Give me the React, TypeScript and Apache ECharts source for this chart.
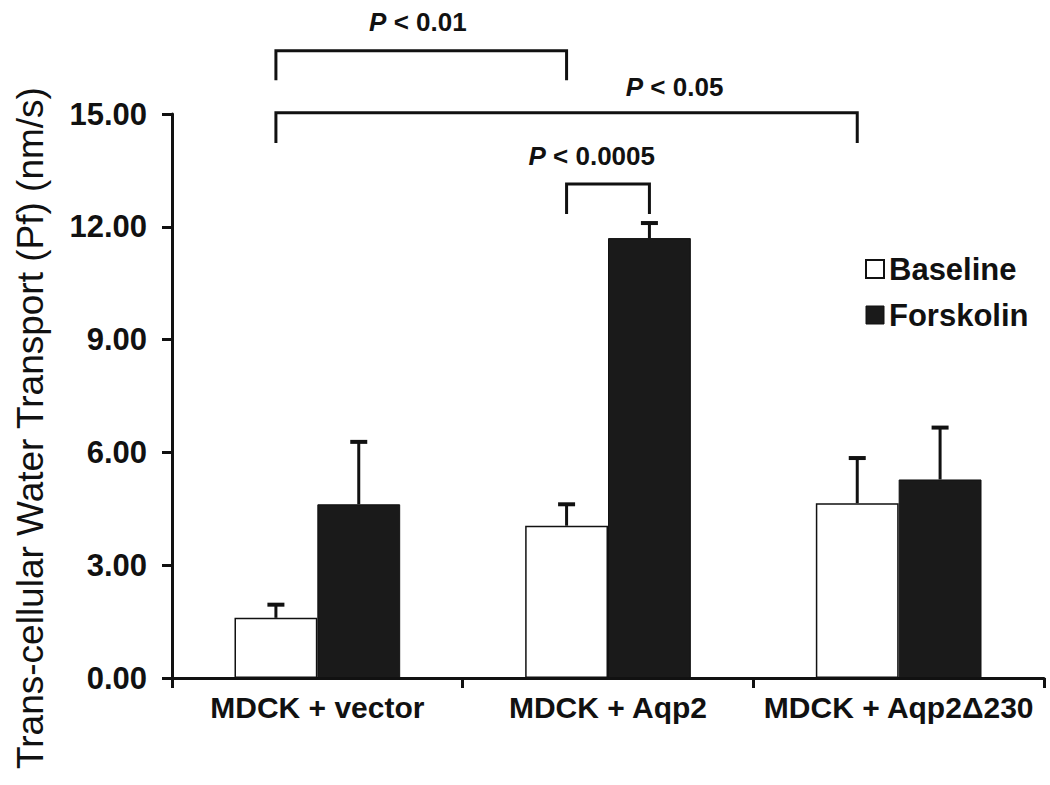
import React, { useEffect, useRef } from "react";
import * as echarts from "echarts";

const categories = ["MDCK + vector", "MDCK + Aqp2", "MDCK + Aqp2Δ230"];
const seriesNames = ["Baseline", "Forskolin"];
const baseline = [1.6, 4.05, 4.65];
const baselineUpper = [1.95, 4.62, 5.85];
const forskolin = [4.62, 11.7, 5.28];
const forskolinUpper = [6.28, 12.1, 6.66];
const yMin = 0;
const yMax = 15;
const yInterval = 3;

// significance brackets: [category A, side A, category B, side B]
const bracketEnds = [
  [0, -1, 1, -1],
  [0, -1, 2, -1],
  [1, -1, 1, 1],
];
const bracketLabels = ["< 0.01", "< 0.05", "< 0.0005"];
// bracket heights in axis units: [horizontal, tick end, label]
const bracketLevels = [
  [16.68, 15.9, 17.45],
  [15.03, 14.23, 15.72],
  [13.14, 12.34, 13.88],
];
// label centre, in category widths from the first category's start
const bracketLabelPos = [0.846, 1.729, 1.444];

const BAR_FRAC = 0.285;
const FONT = "'Liberation Sans', Arial, Helvetica, sans-serif";
const INK = "#111";

export default function App() {
  const ref = useRef<HTMLDivElement>(null);

  useEffect(() => {
    document.body.style.margin = "0";
    const chart = echarts.init(ref.current!, null, { renderer: "svg" });

    const errData: number[][] = [];
    categories.forEach((_, i) => {
      errData.push([i, baseline[i], baselineUpper[i], -1]);
      errData.push([i, forskolin[i], forskolinUpper[i], 1]);
    });

    const bracketData = bracketEnds.map((b, k) => [
      b[0], b[1], b[2], b[3],
      bracketLevels[k][0], bracketLevels[k][1], bracketLevels[k][2],
      bracketLabelPos[k], k,
    ]);

    const option: any = {
      animation: false,
      backgroundColor: "#fff",
      grid: { left: 172, right: 6, top: 114, bottom: 107, containLabel: false },
      legend: {
        data: [
          { name: "Baseline", itemStyle: { color: "#fff", borderColor: INK, borderWidth: 2 } },
          { name: "Forskolin", itemStyle: { color: "#1a1a1a", borderColor: INK, borderWidth: 1 } },
        ],
        orient: "vertical",
        left: 860,
        top: 248,
        icon: "rect",
        itemWidth: 18,
        itemHeight: 18,
        itemGap: 14,
        textStyle: { fontSize: 31, fontWeight: "bold", color: INK, fontFamily: FONT, lineHeight: 32 },
      },
      xAxis: {
        type: "category",
        data: categories,
        axisLine: { show: true, lineStyle: { color: INK, width: 3 } },
        axisTick: { show: true, length: 10, lineStyle: { color: INK, width: 3 } },
        axisLabel: {
          interval: 0,
          fontSize: 30,
          fontWeight: "bold",
          color: INK,
          fontFamily: FONT,
          margin: 14,
        },
        splitLine: { show: false },
      },
      yAxis: {
        type: "value",
        min: yMin,
        max: yMax,
        interval: yInterval,
        axisLine: { show: true, lineStyle: { color: INK, width: 3 } },
        axisTick: { show: true, length: 10, lineStyle: { color: INK, width: 3 } },
        axisLabel: {
          formatter: (v: number) => v.toFixed(2),
          fontSize: 31,
          fontWeight: "bold",
          color: INK,
          fontFamily: FONT,
          margin: 25,
        },
        splitLine: { show: false },
      },
      graphic: [
        {
          type: "text",
          x: 30,
          y: 428,
          rotation: Math.PI / 2,
          style: {
            text: "Trans-cellular Water Transport (Pf) (nm/s)",
            fontSize: 37,
            fontFamily: FONT,
            fill: INK,
            align: "center",
            verticalAlign: "middle",
          },
        },
      ],
      series: [
        {
          name: seriesNames[0],
          type: "bar",
          data: baseline,
          barWidth: BAR_FRAC * 100 + "%",
          barGap: "0%",
          itemStyle: { color: "#fff", borderColor: INK, borderWidth: 1.5 },
        },
        {
          name: seriesNames[1],
          type: "bar",
          data: forskolin,
          barWidth: BAR_FRAC * 100 + "%",
          barGap: "0%",
          itemStyle: { color: "#1a1a1a", borderColor: INK, borderWidth: 1 },
        },
        {
          type: "custom",
          name: "err",
          data: errData,
          z: 5,
          clip: false,
          renderItem: (params: any, api: any) => {
            const c = api.value(0);
            const p0 = api.coord([c, api.value(1)]);
            const p1 = api.coord([c, api.value(2)]);
            const band = api.size([1, 0])[0];
            const cx = p0[0] + (api.value(3) * band * BAR_FRAC) / 2;
            return {
              type: "group",
              children: [
                { type: "line", shape: { x1: cx, y1: p0[1], x2: cx, y2: p1[1] }, style: { stroke: INK, lineWidth: 3 } },
                { type: "line", shape: { x1: cx - 8.5, y1: p1[1], x2: cx + 8.5, y2: p1[1] }, style: { stroke: INK, lineWidth: 4 } },
              ],
            };
          },
        },
        {
          type: "custom",
          name: "brackets",
          data: bracketData,
          z: 6,
          clip: false,
          renderItem: (params: any, api: any) => {
            const band = api.size([1, 0])[0];
            const start = api.coord([0, 0])[0] - band / 2;
            const xa = api.coord([api.value(0), 0])[0] + (api.value(1) * band * BAR_FRAC) / 2;
            const xb = api.coord([api.value(2), 0])[0] + (api.value(3) * band * BAR_FRAC) / 2;
            const yTop = api.coord([0, api.value(4)])[1];
            const yEnd = api.coord([0, api.value(5)])[1];
            const yLab = api.coord([0, api.value(6)])[1];
            const xLab = start + api.value(7) * band;
            const k = api.value(8);
            return {
              type: "group",
              children: [
                {
                  type: "polyline",
                  shape: { points: [[xa, yEnd], [xa, yTop], [xb, yTop], [xb, yEnd]] },
                  style: { stroke: INK, lineWidth: 3, fill: "none" },
                },
                {
                  type: "text",
                  x: xLab,
                  y: yLab,
                  style: {
                    text: "{i|P} {b|" + bracketLabels[k] + "}",
                    align: "center",
                    verticalAlign: "middle",
                    fontSize: 26,
                    fontWeight: "bold",
                    fontFamily: FONT,
                    fill: INK,
                    rich: {
                      i: { fontStyle: "italic", fontWeight: "bold", fontSize: 26, fontFamily: FONT, fill: INK },
                      b: { fontWeight: "bold", fontSize: 26, fontFamily: FONT, fill: INK },
                    },
                  },
                },
              ],
            };
          },
        },
      ],
    };

    chart.setOption(option);
    return () => chart.dispose();
  }, []);

  return <div ref={ref} style={{ width: 1050, height: 785 }} />;
}
